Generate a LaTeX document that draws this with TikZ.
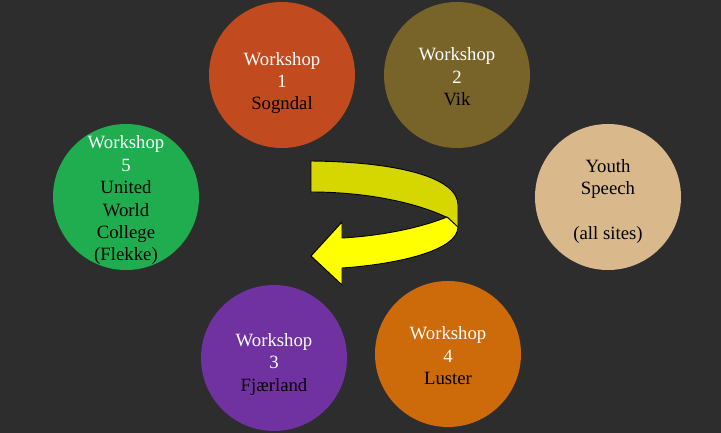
\documentclass[tikz,border=0pt]{standalone}
\usepackage{fontspec}
\setmainfont{Liberation Serif}
\usepackage{tikz}
\usetikzlibrary{positioning}
\definecolor{BgGray}{HTML}{2D2D2D}
\definecolor{SogC}{HTML}{C14A1E}
\definecolor{VikC}{HTML}{786428}
\definecolor{YouthC}{HTML}{D9B88C}
\definecolor{LusC}{HTML}{CD6A0A}
\definecolor{FjaC}{HTML}{7032A0}
\definecolor{UwcC}{HTML}{1FAD4F}
\definecolor{TurnDark}{HTML}{D6D600}
\definecolor{TurnLight}{HTML}{FFFF00}
\newcommand{\lite}[1]{\textcolor{white}{#1}}

\begin{document}
\begin{tikzpicture}[x=0.03cm,y=-0.03cm,
  disc/.style={circle,minimum size=4.38cm,inner sep=0pt},
  lbl/.style={align=center,font=\fontsize{16}{19.1}\selectfont,text=black}]

% ================= backdrop =================
\fill[BgGray] (0,0) rectangle (721,433);
\useasboundingbox (0,0) rectangle (721,433);

% ================= the six sites =================
\node[disc,fill=SogC]   (w1) at (282,75)  {};
\node[disc,fill=VikC]   (w2) at (457,75)  {};
\node[disc,fill=YouthC] (ys) at (608,197) {};
\node[disc,fill=LusC]   (w4) at (448,354) {};
\node[disc,fill=FjaC]   (w3) at (274,358) {};
\node[disc,fill=UwcC]   (w5) at (126,197) {};

\node[lbl] (t1) at ([yshift=-0.24cm]w1.center) {\lite{Workshop}\\\lite{1}\\Sogndal};
\node[lbl] (t2) at ([yshift=-0.05cm]w2.center) {\lite{Workshop}\\\lite{2}\\Vik};
\node[lbl] (ty) at ([yshift=-0.14cm]ys.center) {Youth\\Speech\\[19.1pt](all sites)};
\node[lbl] (t4) at ([yshift=-0.05cm]w4.center) {\lite{Workshop}\\\lite{4}\\Luster};
\node[lbl] (t3) at ([yshift=-0.19cm]w3.center)  {\lite{Workshop}\\\lite{3}\\Fjærland};
\node[lbl] (t5) at ([yshift=-0.1cm]w5.center)
  {\lite{Workshop}\\\lite{5}\\United\\World\\College\\(Flekke)};

% ================= the turning arrow =================
\filldraw[fill=TurnDark,draw=black,line width=.8pt,line join=round]
  (311,161) .. controls (400,162) and (458,178) .. (458,205) -- (458,228)
  -- (448,218) .. controls (420,204) and (370,192) .. (311,192) -- cycle;
\filldraw[fill=TurnLight,draw=black,line width=.8pt,line join=miter]
  (447,217) .. controls (420,228) and (380,236) .. (342,238)
  -- (342,222) -- (311,256) -- (342,285) -- (342,268)
  .. controls (400,264) and (458,250) .. (458,227) -- cycle;
\end{tikzpicture}
\end{document}
